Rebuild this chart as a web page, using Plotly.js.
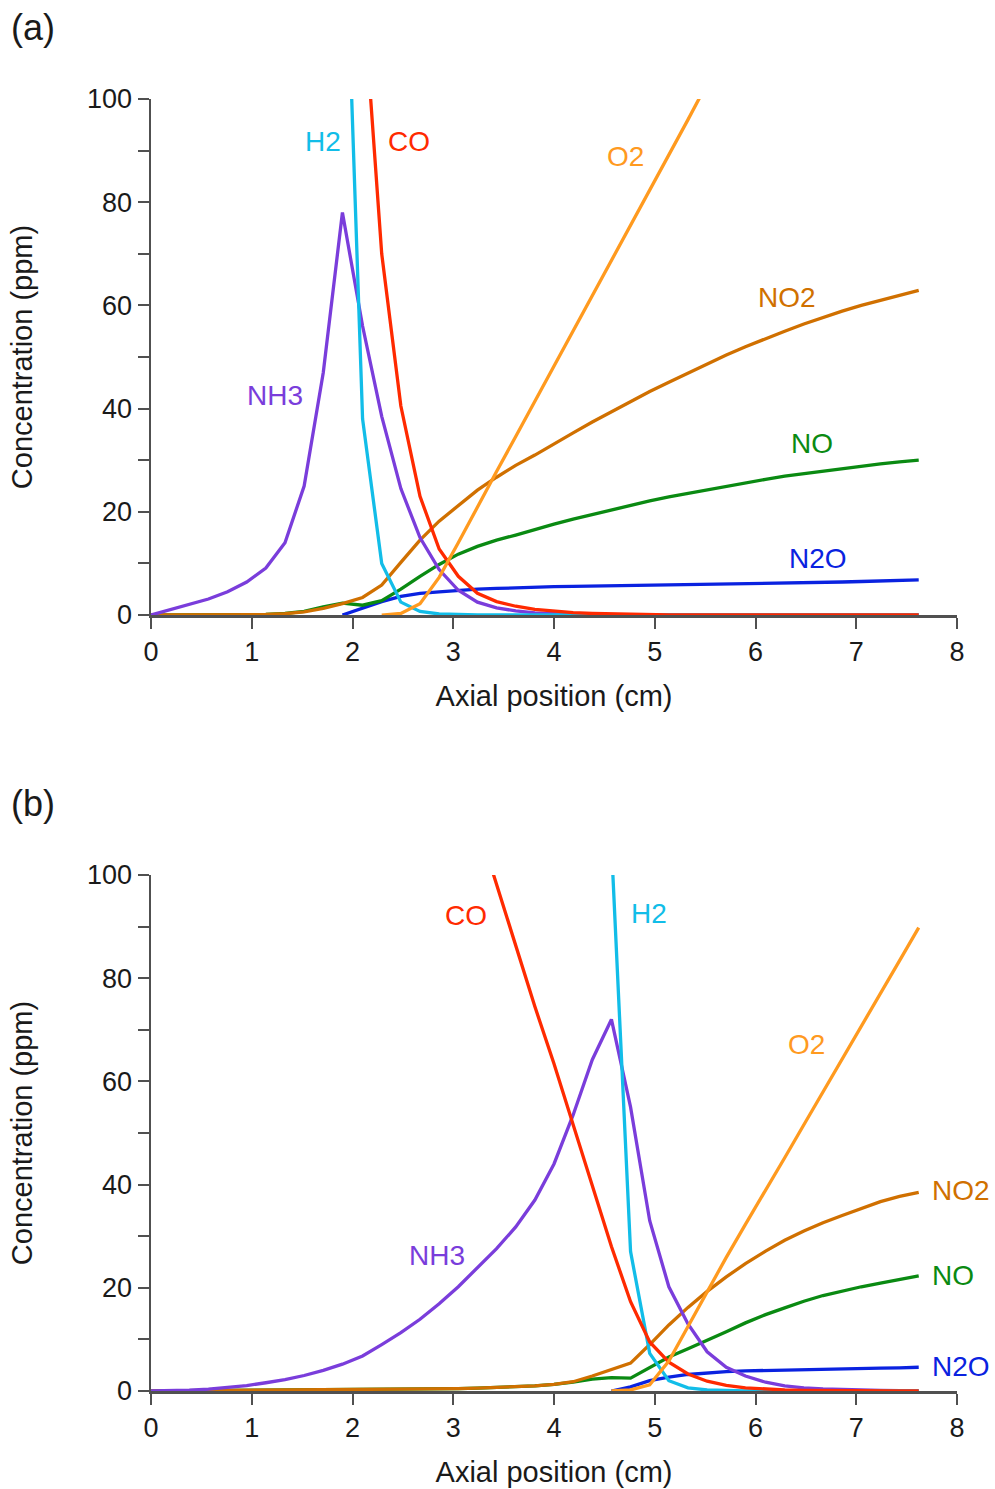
<!DOCTYPE html>
<html>
<head>
<meta charset="utf-8">
<script src="https://cdn.plot.ly/plotly-3.0.1.min.js"></script>
<style>html,body{margin:0;padding:0;background:#fff;}#chart{width:995px;height:1489px;}</style>
</head>
<body>
<div id="chart"></div>
<script>
// Axial positions (cm)
var xPos = [0,0.19,0.38,0.57,0.76,0.95,1.14,1.33,1.52,1.71,1.9,2.1,2.29,2.48,2.67,2.86,3.05,3.24,3.43,3.62,3.81,4.0,4.19,4.38,4.57,4.76,4.95,5.14,5.33,5.52,5.71,5.9,6.1,6.29,6.48,6.67,6.86,7.05,7.24,7.43,7.62];

// Panel (a) concentrations (ppm)
var NH3_a = [0,1.0,2.0,3.1,4.5,6.4,9.1,14,25,47,78,56,38.5,24.5,15,8.8,4.8,2.5,1.4,0.8,0.4,0.2,0.1,0.05,0,0,0,0,0,0,0,0,0,0,0,0,0,0,0,0,0];
var H2_a  = [null,null,null,null,null,null,null,null,null,600,153,38,10,2.5,0.7,0.2,0.05,0,0,0,0,0,0,0,0,0,0,0,0,0,0,0,0,0,0,0,0,0,0,0,0];
var CO_a  = [null,null,null,null,null,null,null,null,null,null,180,122,70,40.5,23,12.8,7.5,4.2,2.6,1.7,1.1,0.7,0.45,0.3,0.2,0.1,0.05,0,0,0,0,0,0,0,0,0,0,0,0,0,0];
var O2_a  = [null,null,null,null,null,null,null,null,null,null,null,null,0,0.3,2.2,7.3,14,21,27.8,34.6,41.4,48.2,55,61.8,68.6,75.4,82.2,89,96,103,null,null,null,null,null,null,null,null,null,null,null];
var NO2_a = [0,0,0,0,0.02,0.05,0.1,0.25,0.6,1.3,2.2,3.4,5.8,10.2,14.5,18.2,21.3,24.2,26.7,29.0,31.0,33.2,35.3,37.4,39.4,41.4,43.3,45.1,46.9,48.7,50.4,52.0,53.6,55.0,56.4,57.7,58.9,60.0,61.0,62.0,62.9];
var NO_a  = [0,0,0,0,0.02,0.05,0.1,0.3,0.7,1.6,2.3,1.9,2.8,5.0,7.5,9.8,11.8,13.3,14.5,15.5,16.6,17.6,18.6,19.5,20.4,21.2,22.1,22.9,23.6,24.3,25.0,25.7,26.3,26.9,27.4,27.9,28.4,28.9,29.3,29.7,30.0];
var N2O_a = [null,null,null,null,null,null,null,null,null,null,0,1.3,2.6,3.6,4.2,4.5,4.8,5.0,5.15,5.3,5.4,5.5,5.55,5.6,5.7,5.75,5.8,5.9,5.95,6.0,6.05,6.1,6.2,6.25,6.3,6.35,6.4,6.5,6.55,6.65,6.8];

// Panel (b) concentrations (ppm)
var NH3_b = [0,0.05,0.15,0.35,0.65,1.05,1.6,2.2,3.0,4.0,5.2,6.8,9.0,11.3,13.9,16.9,20.2,23.8,27.6,31.8,37.0,44.0,53.5,64.2,72.0,55.0,33.0,20.2,13.0,7.6,4.6,2.9,1.7,1.0,0.6,0.4,0.25,0.15,0.1,0.05,0];
var H2_b  = [null,null,null,null,null,null,null,null,null,null,null,null,null,null,null,null,null,null,null,null,null,null,null,500,106,27,7.3,2.0,0.6,0.2,0.05,0,0,0,0,0,0,0,0,0,0];
var CO_b  = [null,null,null,null,null,null,null,null,null,null,null,null,null,null,null,null,null,110,98,86,74.5,63.4,51.5,39.5,28,17.3,9.5,5.6,3.3,1.9,1.1,0.6,0.35,0.2,0.1,0.05,0,0,0,0,0];
var O2_b  = [null,null,null,null,null,null,null,null,null,null,null,null,null,null,null,null,null,null,null,null,null,null,null,null,0,0.2,1.2,5.8,12.5,19.3,25.9,32.3,38.8,45.2,51.6,57.9,64.2,70.6,77.0,83.4,89.8];
var NO2_b = [0,0.02,0.04,0.06,0.08,0.1,0.12,0.14,0.16,0.18,0.2,0.22,0.24,0.27,0.3,0.35,0.45,0.55,0.65,0.8,1.0,1.3,1.8,2.9,4.2,5.4,9.0,12.8,16.2,19.3,22.1,24.7,27.1,29.2,31.0,32.6,34.0,35.4,36.7,37.7,38.5];
var NO_b  = [0,0.02,0.04,0.06,0.08,0.1,0.12,0.14,0.16,0.18,0.2,0.22,0.25,0.28,0.32,0.38,0.45,0.55,0.65,0.8,1.0,1.3,1.7,2.3,2.6,2.5,4.6,6.6,8.2,9.8,11.5,13.2,14.8,16.1,17.4,18.5,19.4,20.2,20.9,21.6,22.3];
var N2O_b = [null,null,null,null,null,null,null,null,null,null,null,null,null,null,null,null,null,null,null,null,null,null,null,null,0,0.8,2.0,2.7,3.2,3.5,3.75,3.9,4.0,4.1,4.2,4.25,4.3,4.4,4.45,4.5,4.6];

// Tick labels
var yTickVals = [0,10,20,30,40,50,60,70,80,90,100];
var yTickText = ['0','','20','','40','','60','','80','','100'];
var xTickVals = [0,1,2,3,4,5,6,7,8];
var xRange = [0,8];

// Series names and colours
var species = ['N2O','NO','NO2','NH3','H2','CO','O2'];
var colors = {NH3:'#7a3ddb', H2:'#12bde8', CO:'#ff2a00', O2:'#ff9a1f', NO2:'#d07000', NO:'#0a8a12', N2O:'#0a22e0'};
var dataA = {NH3:NH3_a, H2:H2_a, CO:CO_a, O2:O2_a, NO2:NO2_a, NO:NO_a, N2O:N2O_a};
var dataB = {NH3:NH3_b, H2:H2_b, CO:CO_b, O2:O2_b, NO2:NO2_b, NO:NO_b, N2O:N2O_b};

// Label anchor positions [x, y] in data units
var labelsA = {H2:[1.71,91.7], CO:[2.56,91.7], O2:[4.71,88.8], NO2:[6.31,61.6], NO:[6.56,33.3], N2O:[6.62,10.9], NH3:[1.23,42.6]};
var labelsB = {CO:[3.13,92.2], H2:[4.94,92.6], O2:[6.51,67.2], NO2:[8.04,38.8], NO:[7.96,22.3], N2O:[8.04,4.8], NH3:[2.84,26.2]};

var traces = [];
species.forEach(function(s){
  traces.push({x:xPos, y:dataA[s], xaxis:'x', yaxis:'y', type:'scatter', mode:'lines', name:s,
    line:{color:colors[s], width:3.3}, connectgaps:false, hoverinfo:'skip'});
});
species.forEach(function(s){
  traces.push({x:xPos, y:dataB[s], xaxis:'x2', yaxis:'y2', type:'scatter', mode:'lines', name:s,
    line:{color:colors[s], width:3.3}, connectgaps:false, hoverinfo:'skip'});
});

var FONT = 'Liberation Sans, Arial, Helvetica, sans-serif';
var axCol = '#505050';
var txtCol = '#1a1a1a';
function xAxis(anchor){
  return {anchor:anchor, domain:[0,1], range:xRange, showgrid:false, zeroline:false, showline:true,
    linecolor:axCol, linewidth:2.5, ticks:'outside', ticklen:11, tickwidth:2, tickcolor:axCol,
    tickmode:'array', tickvals:xTickVals, tickfont:{family:FONT, size:27, color:txtCol},
    title:{text:'Axial position (cm)', font:{family:FONT, size:29, color:txtCol}, standoff:20}};
}
function yAxis(anchor, dom){
  return {anchor:anchor, domain:dom, range:[0,100], showgrid:false, zeroline:false, showline:true,
    linecolor:axCol, linewidth:2.5, ticks:'outside', ticklen:11, tickwidth:2, tickcolor:axCol,
    tickmode:'array', tickvals:yTickVals, ticktext:yTickText, tickfont:{family:FONT, size:27, color:txtCol},
    title:{text:'Concentration (ppm)', font:{family:FONT, size:29, color:txtCol}, standoff:46}};
}

// convert x data value to paper fraction (axis domain is [0,1])
function xPaper(v){ return (v - xRange[0]) / (xRange[1] - xRange[0]); }

var annotations = [];
Object.keys(labelsA).forEach(function(s){
  annotations.push({x:xPaper(labelsA[s][0]), y:labelsA[s][1], xref:'paper', yref:'y', text:s, showarrow:false,
    font:{family:FONT, size:28, color:colors[s]}, xanchor:'center', yanchor:'middle'});
});
Object.keys(labelsB).forEach(function(s){
  annotations.push({x:xPaper(labelsB[s][0]), y:labelsB[s][1], xref:'paper', yref:'y2', text:s, showarrow:false,
    font:{family:FONT, size:28, color:colors[s]}, xanchor:'center', yanchor:'middle'});
});
annotations.push({x:-0.176, y:1.055, xref:'paper', yref:'paper', text:'(a)', showarrow:false,
  font:{family:FONT, size:36, color:txtCol}, xanchor:'left', yanchor:'middle'});
annotations.push({x:-0.176, y:0.455, xref:'paper', yref:'paper', text:'(b)', showarrow:false,
  font:{family:FONT, size:36, color:txtCol}, xanchor:'left', yanchor:'middle'});

var layout = {
  width:995, height:1489,
  margin:{l:151, r:38, t:99, b:98},
  showlegend:false,
  paper_bgcolor:'#ffffff', plot_bgcolor:'#ffffff',
  font:{family:FONT, size:24, color:txtCol},
  xaxis:xAxis('y'),
  yaxis:yAxis('x', [0.6006, 1]),
  xaxis2:xAxis('y2'),
  yaxis2:yAxis('x2', [0, 0.3994]),
  annotations:annotations
};

Plotly.newPlot('chart', traces, layout, {staticPlot:true, displayModeBar:false});
</script>
</body>
</html>
